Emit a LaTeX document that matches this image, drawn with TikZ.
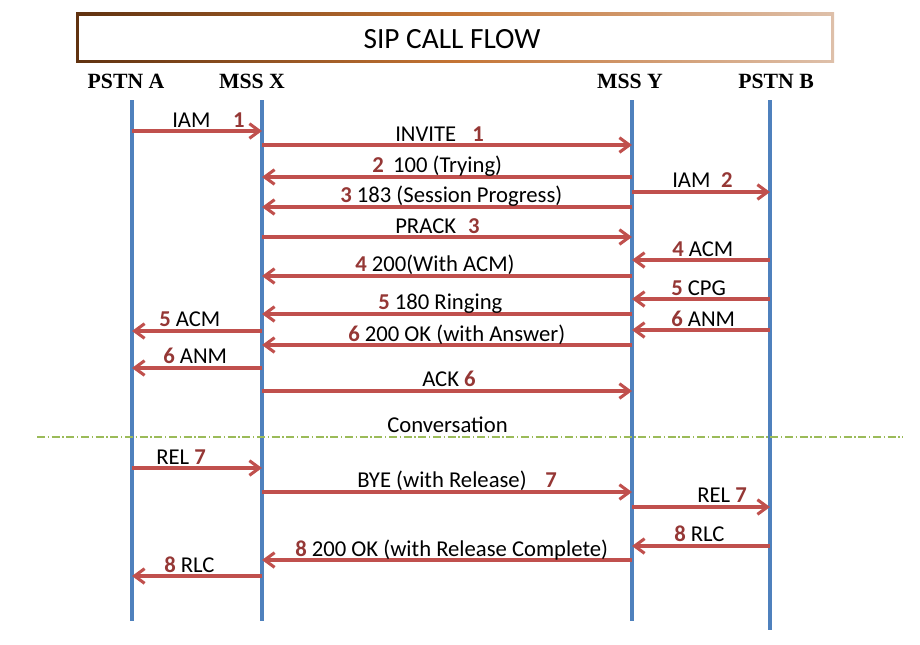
\documentclass[tikz,border=0pt]{standalone}
\usepackage{fontspec}
\setmainfont{Carlito}
\newfontfamily\hdfont{Liberation Serif}
\usetikzlibrary{arrows.meta}
\definecolor{lifeblue}{HTML}{4F81BD}
\definecolor{arrred}{HTML}{C0504D}
\definecolor{numred}{HTML}{953735}
\definecolor{olive}{HTML}{9BBB59}
\definecolor{brA}{RGB}{96,50,16}
\definecolor{brB}{RGB}{196,116,52}
\definecolor{brC}{RGB}{222,192,170}
\newcommand\nb[1]{\textcolor{numred}{\bfseries #1}}
\tikzset{
  lifeline/.style={draw=lifeblue, line width=2.3pt},
  msg/.style={draw=arrred, line width=2.5pt, -{Straight Barb[length=7.5pt,width=11pt,line width=2.3pt]}},
  lbl/.style={anchor=base west, inner sep=0pt, font=\fontsize{17}{20}\selectfont},
  hdr/.style={anchor=base, inner sep=0pt, font=\hdfont\bfseries\fontsize{16.3}{19}\selectfont},
  sep/.style={draw=olive, line width=0.8pt, dash pattern=on 6pt off 2pt on 1pt off 2pt}
}
\begin{document}
\begin{tikzpicture}[x=0.75pt,y=-0.75pt]
\useasboundingbox (0,0) rectangle (920,644);
% title box
\shade[left color=brA, right color=brC, middle color=brB] (76,12.5) rectangle (834,62.5);
\fill[white] (79,15.5) rectangle (831,59.5);
\node[anchor=base, inner sep=0pt, font=\fontsize{22}{26}\selectfont] (title) at (452,48) {SIP CALL FLOW};
% headers
\node[hdr] (hA) at (126,88) {PSTN A};
\node[hdr] (hX) at (252,88) {MSS X};
\node[hdr] (hY) at (630,88) {MSS Y};
\node[hdr] (hB) at (776,88) {PSTN B};
% lifelines
\coordinate (A) at (132,100); \coordinate (Ab) at (132,621);
\coordinate (X) at (262,100); \coordinate (Xb) at (262,621);
\coordinate (Y) at (632,100); \coordinate (Yb) at (632,621);
\coordinate (B) at (770,100); \coordinate (Bb) at (770,630);
\draw[lifeline] (A) -- (Ab);
\draw[lifeline] (X) -- (Xb);
\draw[lifeline] (Y) -- (Yb);
\draw[lifeline] (B) -- (Bb);
% separator
\coordinate (sL) at (37,437); \coordinate (sR) at (903,437);
\draw[sep] (sL) -- (sR);
\node[lbl] (conv) at (387,432) {Conversation};
% messages
\draw[msg] (A |- 0,131) -- (X |- 0,131);
\node[lbl] (l1) at (172,127) {IAM\hspace{17pt}\nb{1}};
\draw[msg] (X |- 0,145) -- (Y |- 0,145);
\node[lbl] (l2) at (395,141) {INVITE\hspace{12pt}\nb{1}};
\draw[msg] (Y |- 0,177) -- (X |- 0,177);
\node[lbl] (l3) at (372,172) {\nb{2}\hspace{7pt}100 (Trying)};
\draw[msg] (Y |- 0,207) -- (X |- 0,207);
\node[lbl] (l4) at (340,202) {\nb{3} 183 (Session Progress)};
\draw[msg] (X |- 0,237) -- (Y |- 0,237);
\node[lbl] (l5) at (395,233) {PRACK\hspace{9pt}\nb{3}};
\draw[msg] (Y |- 0,192) -- (B |- 0,192);
\node[lbl] (l6) at (672,187) {IAM\hspace{8pt}\nb{2}};
\draw[msg] (B |- 0,260) -- (Y |- 0,260);
\node[lbl] (l7) at (672,256) {\nb{4} ACM};
\draw[msg] (Y |- 0,276) -- (X |- 0,276);
\node[lbl] (l8) at (355,271) {\nb{4} 200(With ACM)};
\draw[msg] (B |- 0,299) -- (Y |- 0,299);
\node[lbl] (l9) at (671,295) {\nb{5} CPG};
\draw[msg] (Y |- 0,314) -- (X |- 0,314);
\node[lbl] (l10) at (378,309) {\nb{5} 180 Ringing};
\draw[msg] (B |- 0,330) -- (Y |- 0,330);
\node[lbl] (l11) at (671,326) {\nb{6} ANM};
\draw[msg] (X |- 0,331) -- (A |- 0,331);
\node[lbl] (l12) at (159,326) {\nb{5} ACM};
\draw[msg] (Y |- 0,345) -- (X |- 0,345);
\node[lbl] (l13) at (348,341) {\nb{6} 200 OK (with Answer)};
\draw[msg] (X |- 0,368) -- (A |- 0,368);
\node[lbl] (l14) at (163,363) {\nb{6} ANM};
\draw[msg] (X |- 0,391) -- (Y |- 0,391);
\node[lbl] (l15) at (422,386) {ACK \nb{6}};
\draw[msg] (A |- 0,468) -- (X |- 0,468);
\node[lbl] (l16) at (156,464) {REL \nb{7}};
\draw[msg] (X |- 0,492) -- (Y |- 0,492);
\node[lbl] (l17) at (357,487) {BYE (with Release)\hspace{14pt}\nb{7}};
\draw[msg] (Y |- 0,507) -- (B |- 0,507);
\node[lbl] (l18) at (697,502) {REL \nb{7}};
\draw[msg] (B |- 0,546) -- (Y |- 0,546);
\node[lbl] (l19) at (674,541) {\nb{8} RLC};
\draw[msg] (Y |- 0,560) -- (X |- 0,560);
\node[lbl] (l20) at (295,556) {\nb{8} 200 OK (with Release Complete)};
\draw[msg] (X |- 0,576) -- (A |- 0,576);
\node[lbl] (l21) at (164,572) {\nb{8} RLC};
\end{tikzpicture}
\end{document}
